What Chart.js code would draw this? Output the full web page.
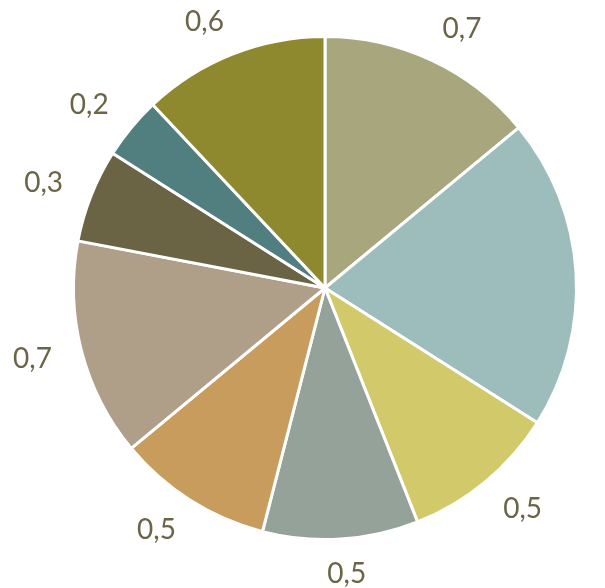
<!DOCTYPE html>
<html>
<head>
<meta charset="utf-8">
<script src="https://cdn.jsdelivr.net/npm/chart.js@4/dist/chart.umd.min.js"></script>
<style>
  html, body { margin: 0; padding: 0; background: #ffffff; }
  #wrap { width: 605px; height: 588px; overflow: hidden; }
</style>
</head>
<body>
<div id="wrap"><canvas id="pie" width="605" height="588"></canvas></div>
<script>
// Chart data (clockwise from 12 o'clock)
const categories = ['1', '2', '3', '4', '5', '6', '7', '8', '9'];
const values = [0.7, 1, 0.5, 0.5, 0.5, 0.7, 0.3, 0.2, 0.6];
const sliceColors = ['#A8A67C', '#9DBDBD', '#D2C96A', '#94A29A', '#C89C5C', '#AF9E88', '#6B6444', '#517E7E', '#8E892F'];

// Format a value like the reference: comma decimal separator
function formatValue(v) {
  return String(v).replace('.', ',');
}

// Draw value labels just outside each slice
const outsideLabels = {
  id: 'outsideLabels',
  afterDatasetsDraw(chart) {
    const ctx = chart.ctx;
    const meta = chart.getDatasetMeta(0);
    ctx.save();
    ctx.font = '28px Lato, "DejaVu Sans", sans-serif';
    ctx.fillStyle = '#6B6548';
    ctx.textAlign = 'center';
    ctx.textBaseline = 'middle';
    meta.data.forEach((arc, i) => {
      const p = arc.getProps(['x', 'y', 'startAngle', 'endAngle', 'outerRadius'], true);
      const mid = (p.startAngle + p.endAngle) / 2;
      const dx = Math.cos(mid), dy = Math.sin(mid);
      const r = p.outerRadius + 35;
      // push labels a little sideways so they clear the rim
      const push = 15 * Math.sign(dx) * Math.min(1, Math.abs(dx) * 4);
      const lx = p.x + dx * r + push;
      const ly = p.y + dy * r;
      ctx.fillText(formatValue(values[i]), lx, ly);
    });
    ctx.restore();
  }
};

new Chart(document.getElementById('pie'), {
  type: 'pie',
  data: {
    labels: categories,
    datasets: [{
      data: values,
      backgroundColor: sliceColors,
      borderColor: '#ffffff',
      borderWidth: 3
    }]
  },
  options: {
    responsive: false,
    animation: false,
    layout: { padding: { top: 35, bottom: 47, left: 72, right: 27 } },
    plugins: {
      legend: { display: false },
      tooltip: { enabled: false }
    }
  },
  plugins: [outsideLabels]
});
</script>
</body>
</html>
